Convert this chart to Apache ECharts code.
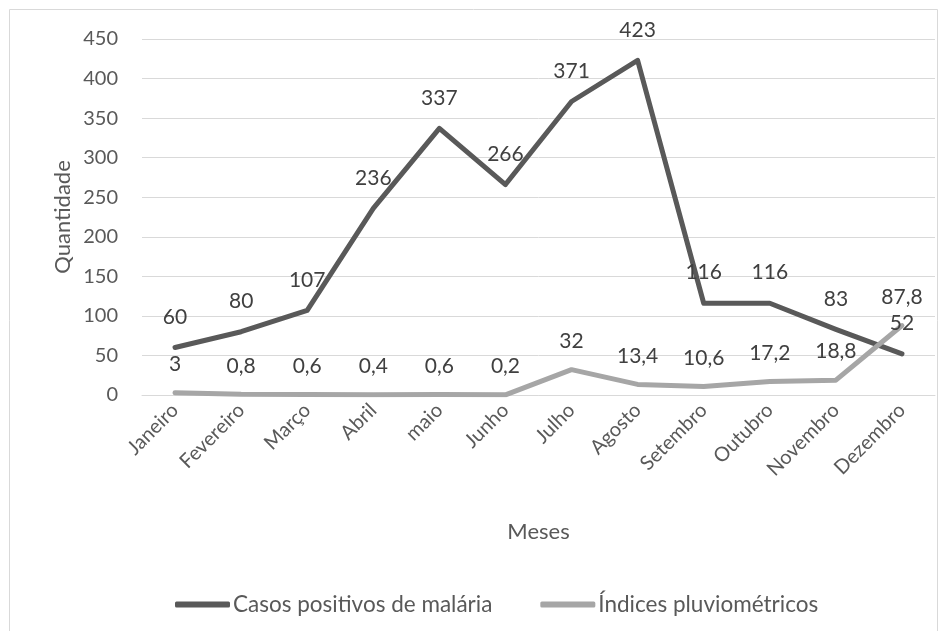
<!DOCTYPE html>
<html>
<head>
<meta charset="utf-8">
<script src="https://cdn.jsdelivr.net/npm/echarts@6/dist/echarts.min.js"></script>
<style>
  html, body { margin: 0; padding: 0; background: #fff; }
  #chart { width: 948px; height: 631px; }
</style>
</head>
<body>
<div id="chart"></div>
<script>
// data
var meses = ['Janeiro', 'Fevereiro', 'Março', 'Abril', 'maio', 'Junho', 'Julho',
  'Agosto', 'Setembro', 'Outubro', 'Novembro', 'Dezembro'];
var casosMalaria = [60, 80, 107, 236, 337, 266, 371, 423, 116, 116, 83, 52];
var indicesPluvio = [3, 0.8, 0.6, 0.4, 0.6, 0.2, 32, 13.4, 10.6, 17.2, 18.8, 87.8];

var fonte = 'Lato, "Open Sans", sans-serif';

var dom = document.getElementById('chart');
var myChart = echarts.init(dom);

function virgula(p) {
  return String(p.value).replace('.', ',');
}

var option = {
  animation: false,
  textStyle: { fontFamily: fonte },
  graphic: [{
    type: 'rect',
    shape: { x: 9.5, y: 9.5, width: 928, height: 640 },
    style: { fill: 'none', stroke: '#d9d9d9', lineWidth: 1 },
    silent: true
  }],
  grid: { left: 142, right: 13, top: 39, bottom: 236 },
  legend: {
    top: 588,
    left: 170,
    itemWidth: 55,
    itemHeight: 6,
    itemGap: 48,
    icon: 'roundRect',
    textStyle: { color: '#595959', fontSize: 22.5, fontFamily: fonte, padding: [0, 0, 0, -2] },
    data: ['Casos positivos de malária', 'Índices pluviométricos']
  },
  xAxis: {
    type: 'category',
    data: meses,
    boundaryGap: true,
    name: 'Meses',
    nameLocation: 'middle',
    nameGap: 126,
    nameMoveOverlap: false,
    nameTextStyle: { color: '#595959', fontSize: 22 },
    axisLine: { show: true, lineStyle: { color: '#d9d9d9', width: 1 } },
    axisTick: { show: false },
    axisLabel: { color: '#595959', fontSize: 20, rotate: 45, margin: 12, interval: 0 }
  },
  yAxis: {
    type: 'value',
    min: 0,
    max: 450,
    interval: 50,
    name: 'Quantidade',
    nameLocation: 'middle',
    nameGap: 68,
    nameMoveOverlap: false,
    nameTextStyle: { color: '#595959', fontSize: 22 },
    axisLine: { show: false },
    axisTick: { show: false },
    axisLabel: { color: '#595959', fontSize: 20, margin: 24 },
    splitLine: { lineStyle: { color: '#d9d9d9', width: 1 } }
  },
  series: [
    {
      name: 'Casos positivos de malária',
      type: 'line',
      data: casosMalaria,
      symbol: 'circle',
      symbolSize: 0,
      lineStyle: { color: '#595959', width: 5, cap: 'round', join: 'round' },
      itemStyle: { color: '#595959' },
      label: { show: true, position: 'top', distance: 20, color: '#404040', fontSize: 21, formatter: virgula }
    },
    {
      name: 'Índices pluviométricos',
      type: 'line',
      data: indicesPluvio,
      symbol: 'circle',
      symbolSize: 0,
      lineStyle: { color: '#a6a6a6', width: 5, cap: 'round', join: 'round' },
      itemStyle: { color: '#a6a6a6' },
      label: { show: true, position: 'top', distance: 18, color: '#404040', fontSize: 21, formatter: virgula }
    }
  ]
};

if (option && typeof option === 'object') {
  myChart.setOption(option, true);
}
</script>
</body>
</html>
